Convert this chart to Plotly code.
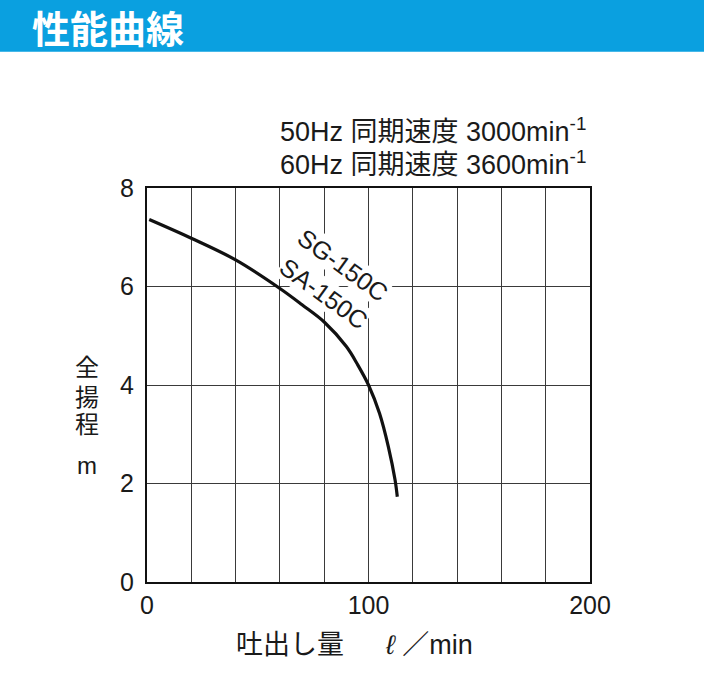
import plotly.graph_objects as go

# 吐出し量 (l/min) と 全揚程 (m)
flow = [1, 20, 40, 60, 70, 80, 90, 95, 100, 105, 109, 112, 113]
head = [7.36, 6.98, 6.54, 5.96, 5.63, 5.28, 4.78, 4.42, 4.0, 3.42, 2.74, 2.07, 1.73]

x_ticks = [0, 100, 200]
x_grid_step = 20
y_ticks = [0, 2, 4, 6, 8]

models = ["SG-150C", "SA-150C"]
model_pos = [(88.5, 6.44), (79.5, 5.86)]

speed_hz = ["50Hz", "60Hz"]
speed_rpm = ["3000", "3600"]

y_title_chars = ["全", "揚", "程"]

jp = "Noto Sans CJK JP"
num = "Liberation Sans"
mix = "Liberation Sans, Noto Sans CJK JP"
ink = "#1a1a1a"

fig = go.Figure()
fig.add_trace(go.Scatter(
    x=flow, y=head, mode="lines",
    line=dict(color="#111111", width=3.2, shape="spline", smoothing=1.0),
    showlegend=False, hoverinfo="skip"
))

# 機種名ラベル
for name, (mx, my) in zip(models, model_pos):
    fig.add_annotation(x=mx, y=my, text=name, showarrow=False, textangle=36,
                       font=dict(family=num, size=25, color=ink),
                       bgcolor="white", borderpad=0)

# 同期速度
for i, (hz, rpm) in enumerate(zip(speed_hz, speed_rpm)):
    t = f"{hz} 同期速度 {rpm}min<sup>-1</sup>"
    fig.add_annotation(xref="paper", yref="paper", x=0.9955, y=1.147 - i * 0.084,
                       text=t, showarrow=False, xanchor="right", yanchor="middle",
                       font=dict(family=mix, size=27, color=ink))

# 見出し帯
fig.add_shape(type="rect", xref="paper", yref="paper",
              x0=-0.4, x1=1.3, y0=1.3455, y1=1.55,
              fillcolor="#0aa0e0", line_width=0, layer="below")
fig.add_annotation(xref="paper", yref="paper", x=-0.263, y=1.41, text="<b>性能曲線</b>",
                   showarrow=False, xanchor="left", yanchor="middle",
                   font=dict(family=jp, size=38, color="white"))

# 軸タイトル (縦書き)
for ch, yy in zip(y_title_chars, [0.5504, 0.4742, 0.4056]):
    fig.add_annotation(xref="paper", yref="paper", x=-0.1353, y=yy, text=ch,
                       showarrow=False, xanchor="center", yanchor="middle",
                       font=dict(family=jp, size=24, color=ink))
fig.add_annotation(xref="paper", yref="paper", x=-0.1353, y=0.2964, text="m",
                   showarrow=False, xanchor="center", yanchor="middle",
                   font=dict(family=num, size=24, color=ink))
fig.add_annotation(xref="paper", yref="paper", x=0.4677, y=-0.161,
                   text="吐出し量　  <i>ℓ</i> ／min",
                   showarrow=False, xanchor="center", yanchor="middle",
                   font=dict(family=mix, size=27, color=ink))

fig.update_xaxes(range=[0, 200], tickvals=x_ticks,
                 showgrid=True, gridcolor="#3a3a3a", gridwidth=1,
                 minor=dict(dtick=x_grid_step, showgrid=True, gridcolor="#3a3a3a", gridwidth=1),
                 showline=True, linecolor="#111111", linewidth=2, mirror=True,
                 zeroline=False, ticks="", ticklabelstandoff=0,
                 tickfont=dict(family=num, size=25, color=ink))
fig.update_yaxes(range=[0, 8], tickvals=y_ticks,
                 showgrid=True, gridcolor="#3a3a3a", gridwidth=1,
                 showline=True, linecolor="#111111", linewidth=2, mirror=True,
                 zeroline=False, ticks="", ticklabelstandoff=6,
                 tickfont=dict(family=num, size=25, color=ink))

fig.update_layout(width=704, height=693, plot_bgcolor="white", paper_bgcolor="white",
                  margin=dict(l=147, r=114, t=188, b=111))

fig.write_html("out.html", config={"displayModeBar": False},
               post_script="document.body.style.margin='0px';")
